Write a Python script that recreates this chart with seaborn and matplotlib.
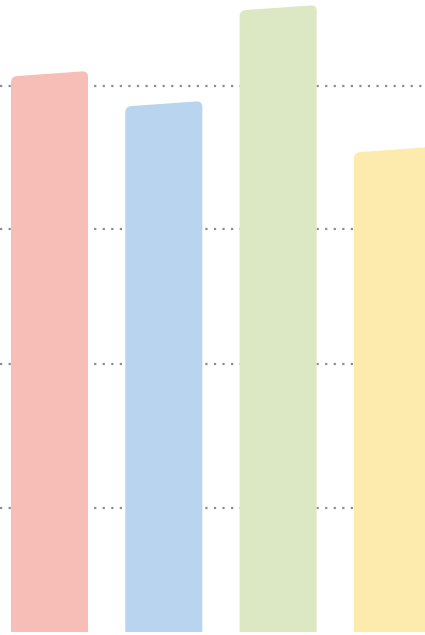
import matplotlib
matplotlib.use("Agg")
import matplotlib.pyplot as plt
from matplotlib.path import Path
from matplotlib.patches import PathPatch
import seaborn as sns
import pandas as pd

# values (baseline = 0)
categories = ["A", "B", "C", "D"]
values = [561, 531, 627, 485]          # height at the right-hand top corner
grid_values = [124, 268, 403, 546]     # dotted guide lines
colors = ["#F7BDB7", "#B9D4EF", "#DBE8C3", "#FDEAAD"]

SLANT_PX = 5.5    # top edge drops this much towards the left
RADIUS_PX = 6

sns.set_style("white")

fig = plt.figure(figsize=(4.25, 6.35), dpi=100)
ax = fig.add_axes([0, 0, 1, 1])

df = pd.DataFrame({"cat": categories, "val": values})
sns.barplot(data=df, x="cat", y="val", hue="cat", palette=colors,
            width=0.674, legend=False, ax=ax, saturation=1)

ax.set_xlim(-0.433, 3.285)
ax.set_ylim(-3, 632)

ax.set_yticks(grid_values)
ax.yaxis.grid(True, color="#8c8c8c", linewidth=1.6, linestyle=(0, (1, 2.85)))
ax.xaxis.grid(False)
ax.set_axisbelow(True)
ax.tick_params(length=0, labelleft=False, labelbottom=False)
for s in ax.spines.values():
    s.set_visible(False)
ax.set_xlabel("")
ax.set_ylabel("")

# pixel -> data unit sizes
inv = ax.transData.inverted()
p0 = inv.transform((0, 0))
p1 = inv.transform((1, 1))
dx_px = p1[0] - p0[0]
dy_px = p1[1] - p0[1]

# swap plain rectangles for slanted, rounded-top bars
for bar in list(ax.patches):
    x0 = bar.get_x()
    x1 = x0 + bar.get_width()
    y0 = bar.get_y()
    hr = y0 + bar.get_height()
    hl = hr - SLANT_PX * dy_px
    rx = RADIUS_PX * dx_px
    ry = RADIUS_PX * dy_px
    slope = (hr - hl) / (x1 - x0)
    verts = [
        (x0, y0),
        (x0, hl - ry),
        (x0, hl), (x0 + rx, hl + slope * rx),
        (x1 - rx, hr - slope * rx),
        (x1, hr), (x1, hr - ry),
        (x1, y0),
        (x0, y0),
    ]
    codes = [Path.MOVETO, Path.LINETO,
             Path.CURVE3, Path.CURVE3,
             Path.LINETO,
             Path.CURVE3, Path.CURVE3,
             Path.LINETO, Path.CLOSEPOLY]
    ax.add_patch(PathPatch(Path(verts, codes), facecolor=bar.get_facecolor(),
                           edgecolor="none", zorder=2))
    bar.set_visible(False)

fig.savefig("out.png", dpi=100, facecolor="white")
